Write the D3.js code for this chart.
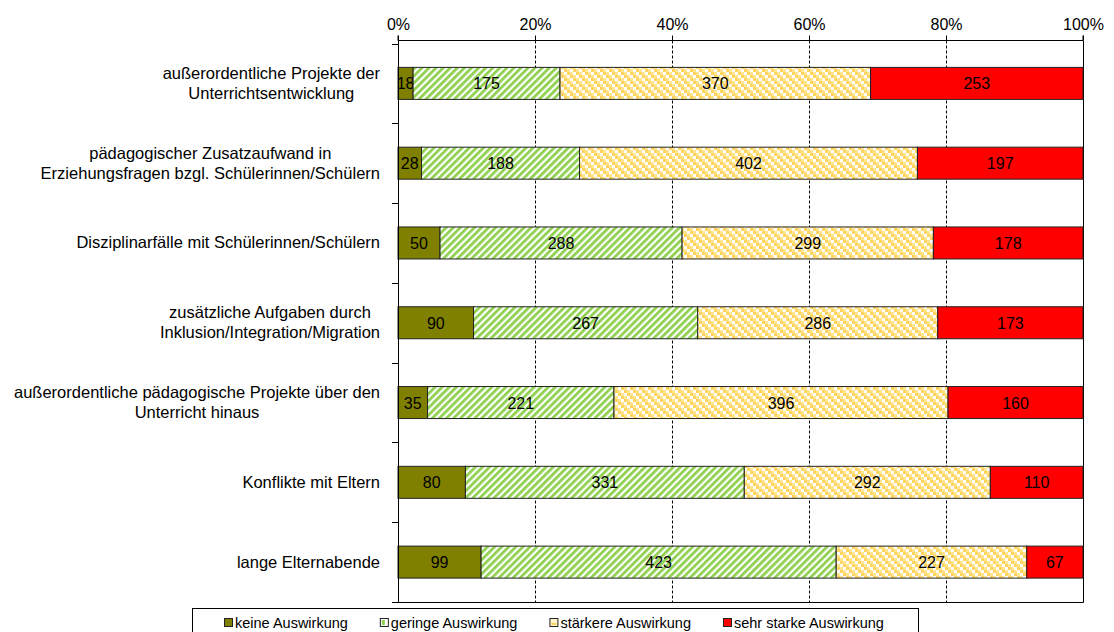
<!DOCTYPE html>
<html>
<head>
<meta charset="utf-8">
<script src="https://cdn.jsdelivr.net/npm/d3@7/dist/d3.min.js"></script>
<style>
  body { margin: 0; background: #fff; }
  svg { display: block; font-family: "Liberation Sans", Arial, sans-serif; }
</style>
</head>
<body>
<div id="chart"></div>
<script>
// data
var categories = [
    "außerordentliche Projekte der\nUnterrichtsentwicklung",
    "pädagogischer Zusatzaufwand in\nErziehungsfragen bzgl. Schülerinnen/Schülern",
    "Disziplinarfälle mit Schülerinnen/Schülern",
    "zusätzliche Aufgaben durch\nInklusion/Integration/Migration",
    "außerordentliche pädagogische Projekte über den\nUnterricht hinaus",
    "Konflikte mit Eltern",
    "lange Elternabende"
];
var keine = [18, 28, 50, 90, 35, 80, 99];
var geringe = [175, 188, 288, 267, 221, 331, 423];
var staerkere = [370, 402, 299, 286, 396, 292, 227];
var sehrStark = [253, 197, 178, 173, 160, 110, 67];
var seriesNames = ["keine Auswirkung", "geringe Auswirkung", "stärkere Auswirkung", "sehr starke Auswirkung"];
var xTicks = [0, 0.2, 0.4, 0.6, 0.8, 1];

var width = 1114, height = 632;
var plotLeft = 398, plotRight = 1083, plotTop = 40.5, plotBottom = 602;

var svg = d3.select("#chart").append("svg")
    .attr("width", width)
    .attr("height", height);

// fill patterns
var defs = svg.append("defs");

var green = defs.append("pattern")
    .attr("id", "pGreen")
    .attr("patternUnits", "userSpaceOnUse")
    .attr("width", 5).attr("height", 5)
    .attr("patternTransform", "rotate(45)");
green.append("rect").attr("width", 5).attr("height", 5).attr("fill", "#fff");
green.append("rect").attr("width", 2.8).attr("height", 5).attr("fill", "#8FD14F");

var yellow = defs.append("pattern")
    .attr("id", "pYellow")
    .attr("patternUnits", "userSpaceOnUse")
    .attr("width", 9).attr("height", 9);
yellow.append("rect").attr("width", 9).attr("height", 9).attr("fill", "#fff");
for (var k = 0; k < 3; k++) {
    yellow.append("rect").attr("x", 3 * k).attr("y", 3 * k).attr("width", 3).attr("height", 3).attr("fill", "#FFD45E");
    yellow.append("rect").attr("x", (3 * k + 3) % 9).attr("y", 3 * k).attr("width", 3).attr("height", 3).attr("fill", "#FFE58F");
}

var fills = ["#808000", "url(#pGreen)", "url(#pYellow)", "#FF0000"];

// stack the rows as shares of 100%
var rows = categories.map(function(c, i) {
    return { cat: c, vals: [keine[i], geringe[i], staerkere[i], sehrStark[i]] };
});

var x = d3.scaleLinear().domain([0, 1]).range([plotLeft, plotRight]);
var y = d3.scaleBand().domain(d3.range(categories.length)).range([43.5, plotBottom]).paddingInner(0).paddingOuter(0);
var barH = 32;

// dashed gridlines
svg.append("g").selectAll("line")
    .data(xTicks.slice(1, -1))
    .enter().append("line")
    .attr("x1", function(d) { return Math.round(x(d)) + 0.5; })
    .attr("x2", function(d) { return Math.round(x(d)) + 0.5; })
    .attr("y1", plotTop).attr("y2", plotBottom)
    .attr("stroke", "#000")
    .attr("stroke-width", 1)
    .attr("stroke-dasharray", "3,2");

// frame on right and bottom
svg.append("path")
    .attr("d", "M" + (plotRight + 0.5) + "," + plotTop + "V" + (plotBottom + 0.5) + "H" + plotLeft)
    .attr("fill", "none")
    .attr("stroke", "#000");

// bars
rows.forEach(function(r, i) {
    var total = d3.sum(r.vals);
    var acc = 0;
    var cy = y(i) + y.bandwidth() / 2;
    var g = svg.append("g");
    r.vals.forEach(function(v, j) {
        var x0 = x(acc / total), x1 = x((acc + v) / total);
        acc += v;
        g.append("rect")
            .attr("x", x0).attr("y", cy - barH / 2)
            .attr("width", x1 - x0).attr("height", barH)
            .attr("fill", fills[j])
            .attr("stroke", "#222")
            .attr("stroke-width", 1);
        g.append("text")
            .attr("x", (x0 + x1) / 2).attr("y", cy + 6)
            .attr("text-anchor", "middle")
            .attr("font-size", "16px")
            .attr("fill", "#000")
            .text(v);
    });
});

// top value axis
var xAxis = svg.append("g")
    .attr("transform", "translate(0," + plotTop + ")")
    .call(d3.axisTop(x).tickValues(xTicks).tickFormat(d3.format(".0%")).tickSize(5).tickPadding(6));
xAxis.select(".domain").attr("stroke", "#000").attr("d", "M" + plotLeft + ",-5V0H" + plotRight + "V-5");
xAxis.selectAll(".tick line").attr("stroke", "#000");
xAxis.selectAll("text").attr("font-size", "16px").attr("fill", "#000").attr("font-family", "Liberation Sans, Arial, sans-serif");

// left category axis with boundary ticks
var yAxis = svg.append("g");
yAxis.append("line")
    .attr("x1", plotLeft + 0.5).attr("x2", plotLeft + 0.5)
    .attr("y1", plotTop).attr("y2", plotBottom + 0.5)
    .attr("stroke", "#000");
yAxis.selectAll(".tk")
    .data(d3.range(categories.length + 1))
    .enter().append("line")
    .attr("x1", plotLeft - 6).attr("x2", plotLeft)
    .attr("y1", function(d) { return Math.round(43.5 + d * y.step()) + 0.5; })
    .attr("y2", function(d) { return Math.round(43.5 + d * y.step()) + 0.5; })
    .attr("stroke", "#000");

// category labels: lines centred, block right aligned
var labelRight = 380;
categories.forEach(function(c, i) {
    var lines = c.split("\n");
    var cy = y(i) + y.bandwidth() / 2;
    var tmp = svg.append("g");
    var texts = lines.map(function(l, k) {
        return tmp.append("text")
            .attr("font-size", "16.5px")
            .attr("fill", "#000")
            .attr("text-anchor", "middle")
            .attr("y", cy + (k - (lines.length - 1) / 2) * 20 + 5.5)
            .text(l);
    });
    var maxW = d3.max(texts, function(t) { return t.node().getComputedTextLength(); });
    texts.forEach(function(t) { t.attr("x", labelRight - maxW / 2); });
});

// legend
var legend = svg.append("g");
legend.append("rect")
    .attr("x", 192.5).attr("y", 608.5)
    .attr("width", 726).attr("height", 40)
    .attr("fill", "#fff")
    .attr("stroke", "#000");
var lx = 224;
seriesNames.forEach(function(name, j) {
    legend.append("rect")
        .attr("x", lx + 0.5).attr("y", 618.5)
        .attr("width", 8).attr("height", 8)
        .attr("fill", j == 1 ? "#fff" : (j == 2 ? "#FFF2CC" : fills[j]))
        .attr("stroke", "#222");
    if (j == 1) {
        legend.append("rect").attr("x", lx + 2).attr("y", 620).attr("width", 3).attr("height", 5).attr("fill", "#8FD14F");
    }
    if (j == 2) {
        legend.append("rect").attr("x", lx + 2).attr("y", 623).attr("width", 5).attr("height", 2).attr("fill", "#FFD45E");
    }
    var t = legend.append("text")
        .attr("x", lx + 11).attr("y", 627.5)
        .attr("font-size", "14.5px")
        .attr("fill", "#000")
        .text(name);
    lx += 11 + t.node().getComputedTextLength() + 32;
});
</script>
</body>
</html>
